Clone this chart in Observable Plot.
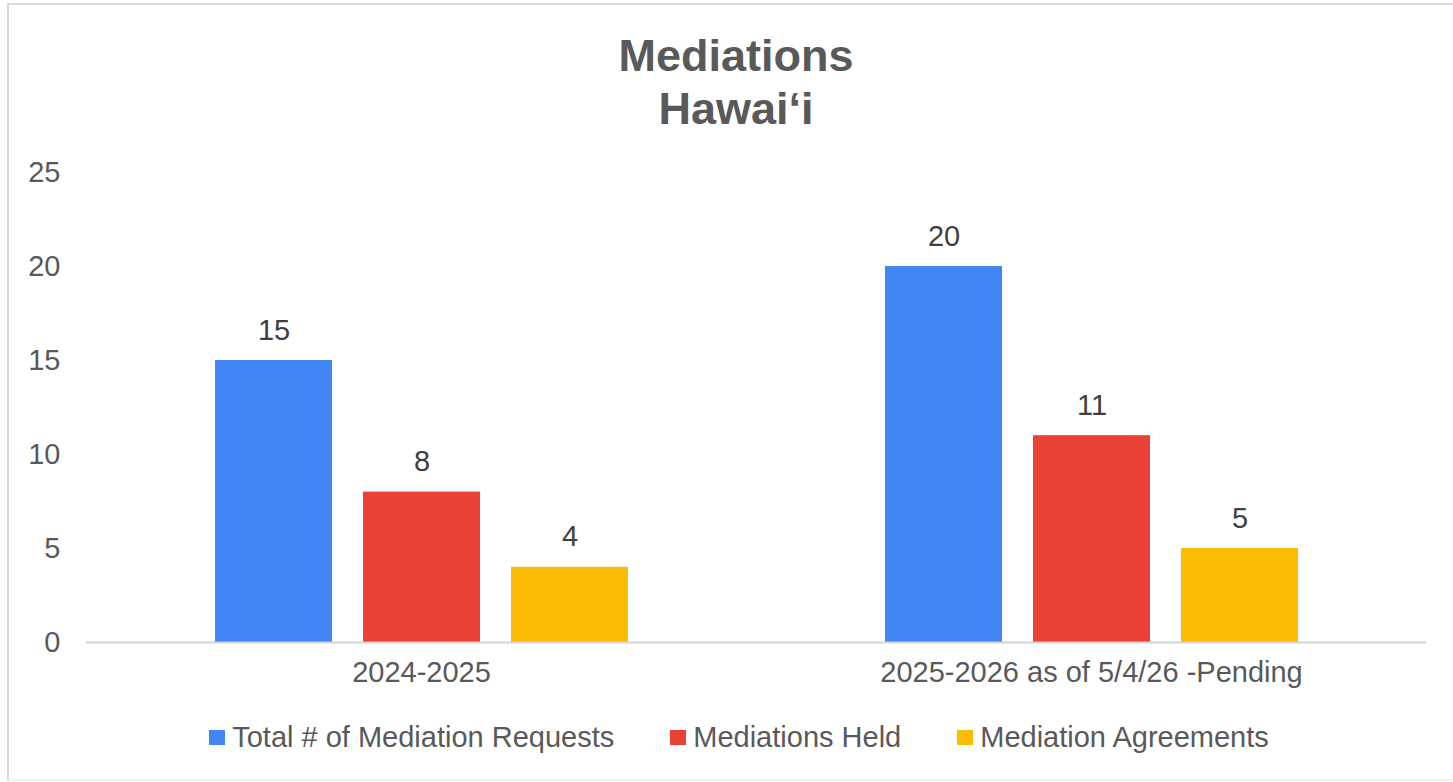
<!DOCTYPE html>
<html>
<head>
<meta charset="utf-8">
<script src="https://cdn.jsdelivr.net/npm/d3@7"></script>
<script src="https://cdn.jsdelivr.net/npm/@observablehq/plot@0.6"></script>
<style>
  html, body { margin: 0; padding: 0; background: #fff; width: 1453px; height: 782px; overflow: hidden; }
  body { position: relative; font-family: "Liberation Sans", Arial, sans-serif; color: #595959; }
  #frame { position: absolute; left: 7px; top: 3px; width: 1480px; height: 778px; border: 2px solid #dadada; border-bottom-color: #f0f0f0; box-sizing: border-box; }
  #title { position: absolute; left: 0; top: 29px; width: 1472px; text-align: center; font-weight: bold; font-size: 45px; line-height: 53px; color: #595959; }
  #chart { position: absolute; left: 0; top: 150px; }
  #legend { position: absolute; left: 0; top: 721px; width: 1478px; display: flex; justify-content: center; gap: 56px; font-size: 29px; color: #595959; }
  .item { display: flex; align-items: center; }
  .sw { width: 16px; height: 15px; margin-right: 7px; display: inline-block; }
</style>
</head>
<body>
<div id="frame"></div>
<div id="title">Mediations<br>Hawai‘i</div>
<div id="chart"></div>
<div id="legend"></div>
<script>
const groups = ["2024-2025", "2025-2026 as of 5/4/26 -Pending"];
const series = ["Total # of Mediation Requests", "Mediations Held", "Mediation Agreements"];
const colors = ["#4285F4", "#EA4335", "#FBBC04"];
const requests = [15, 20];
const held = [8, 11];
const agreements = [4, 5];
const yTicks = [0, 5, 10, 15, 20, 25];

const seriesValues = [requests, held, agreements];
const data = [];
groups.forEach((g, gi) => {
  series.forEach((s, si) => {
    data.push({group: g, series: s, value: seriesValues[si][gi]});
  });
});

const chart = Plot.plot({
  width: 1453,
  height: 552,
  marginLeft: 86,
  marginRight: 27,
  marginTop: 22,
  marginBottom: 60,
  style: {fontFamily: "Liberation Sans, Arial, sans-serif", fontSize: "29px", color: "#595959", background: "transparent"},
  fx: {domain: groups, padding: 0, label: null},
  x: {domain: series, paddingInner: 0.21, paddingOuter: 0.868, axis: null},
  y: {domain: [0, 25], ticks: yTicks, label: null},
  color: {domain: series, range: colors},
  marks: [
    Plot.axisY({ticks: yTicks, tickSize: 0, tickPadding: 26, label: null, fill: "#595959"}),
    Plot.axisFx({anchor: "bottom", tickSize: 0, tickPadding: 19, label: null, fill: "#595959"}),
    Plot.barY(data, {fx: "group", x: "series", y: "value", fill: "series"}),
    Plot.ruleY([0], {stroke: "#d4d4d4", strokeWidth: 2}),
    Plot.text(data, {fx: "group", x: "series", y: "value", text: d => String(d.value), dy: -21, lineAnchor: "bottom", fill: "#404040", fontSize: 29})
  ]
});
document.getElementById("chart").appendChild(chart);

const legend = document.getElementById("legend");
series.forEach((s, i) => {
  const item = document.createElement("div");
  item.className = "item";
  const sw = document.createElement("span");
  sw.className = "sw";
  sw.style.background = colors[i];
  const t = document.createElement("span");
  t.textContent = s;
  item.appendChild(sw);
  item.appendChild(t);
  legend.appendChild(item);
});
</script>
</body>
</html>
